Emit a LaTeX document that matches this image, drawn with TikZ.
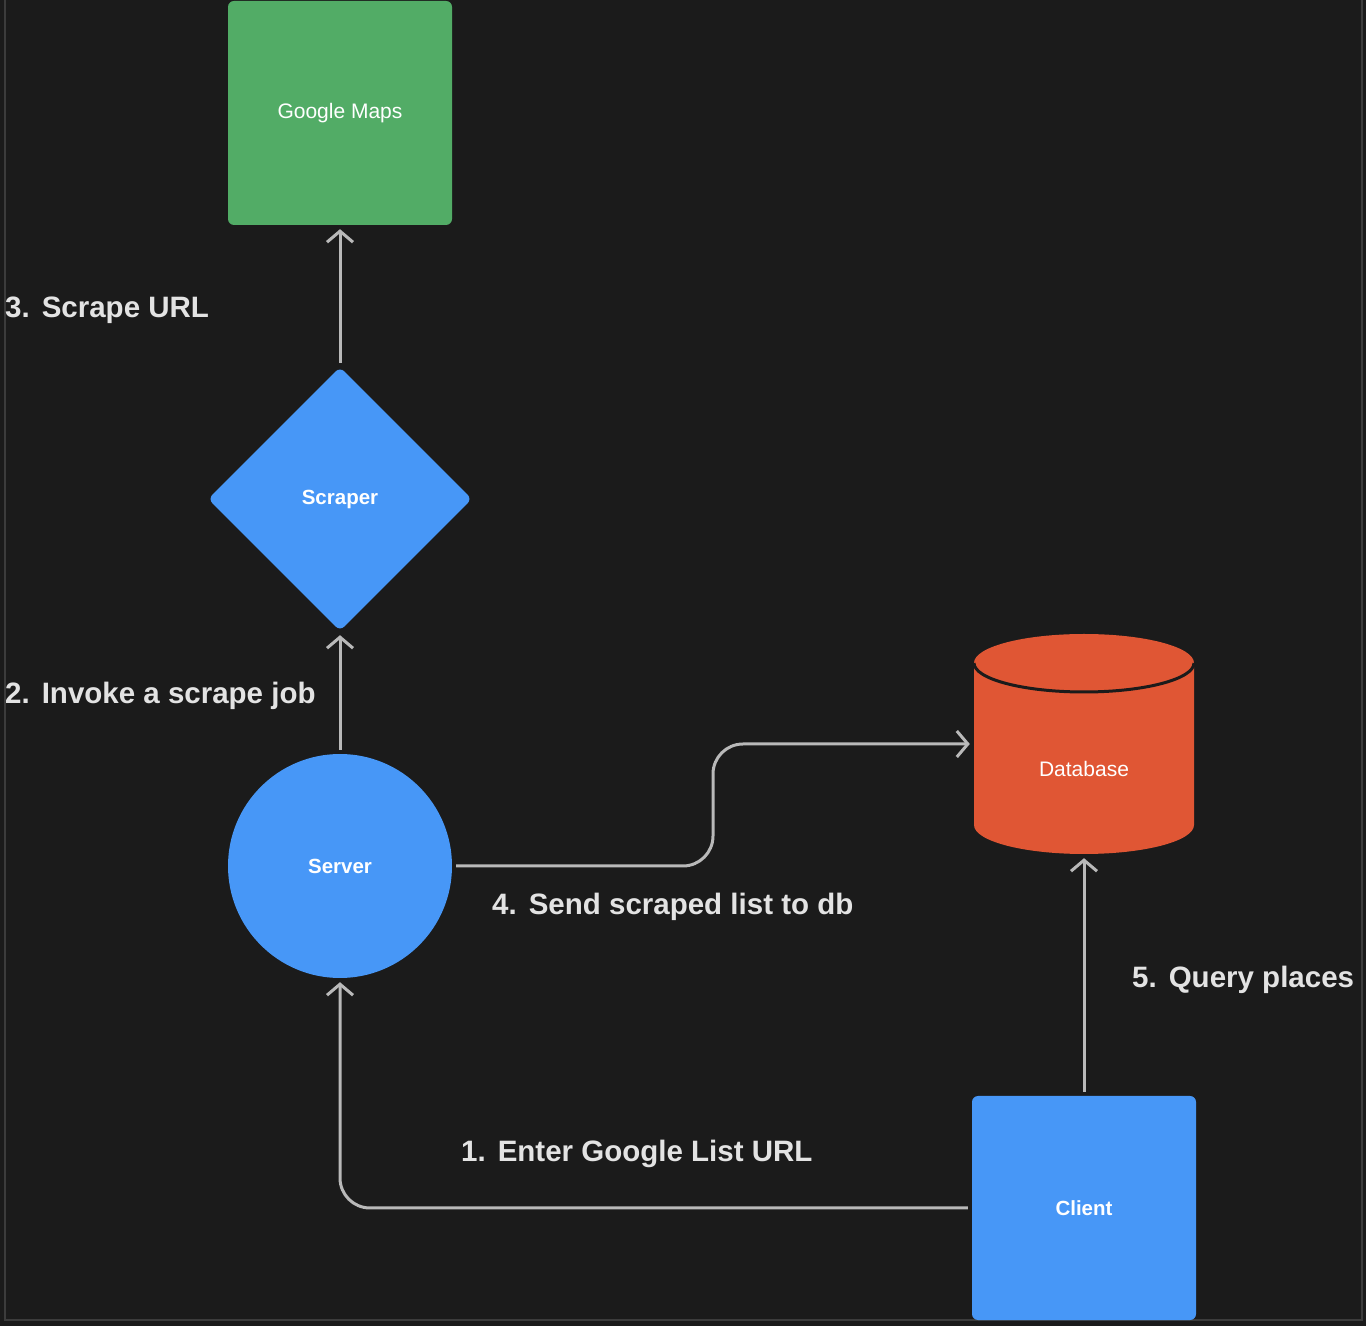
\documentclass[tikz,border=0pt]{standalone}
\usepackage{fontspec}
\setmainfont{Liberation Sans}
\usetikzlibrary{shapes.geometric,arrows.meta,calc}

\definecolor{bgdark}{HTML}{1B1B1B}
\definecolor{framegray}{HTML}{3C3C3C}
\definecolor{mapsgreen}{HTML}{52AC66}
\definecolor{nodeblue}{HTML}{4797F7}
\definecolor{dbred}{HTML}{E05634}
\definecolor{arrowgray}{HTML}{B9B9B9}
\definecolor{labelgray}{HTML}{E3E3E3}

\begin{document}
\begin{tikzpicture}[x=1pt,y=1pt,
		flow/.style={draw=arrowgray, line width=3pt, -{Straight Barb[length=11pt,width=26pt]}, shorten >=4pt, shorten <=4pt},
		box/.style={rectangle, rounded corners=6pt, minimum width=224pt, minimum height=224pt, inner sep=0pt, text=white, font=\fontsize{21}{24}\selectfont},
		lbl/.style={anchor=base west, inner sep=0pt, text=labelgray, font=\fontsize{29.5}{32}\selectfont\bfseries}]
		\useasboundingbox (0,0) rectangle (1366,1326);
		\fill[bgdark] (0,0) rectangle (1366,1326);
		\draw[framegray, line width=2pt] (5,1326) -- (5,6) -- (1362,6) -- (1362,1326);

		% cylinder behind the db label
		\fill[dbred] (974,663) -- (974,501) arc (180:360:110 and 29) -- (1194,663) arc (0:180:110 and 29) -- cycle;
		\draw[bgdark, line width=3pt] (974,663) arc (180:360:110 and 29);

		\node[box, fill=mapsgreen] (maps) at (340,1213) {Google Maps};
		\node[diamond, aspect=1, minimum width=264pt, minimum height=264pt, inner sep=0pt, rounded corners=6pt, fill=nodeblue, text=white, font=\fontsize{20.5}{24}\selectfont\bfseries] (scraper) at (340,827) {Scraper};
		\node[circle, minimum size=224pt, inner sep=0pt, fill=nodeblue, text=white, font=\fontsize{20.5}{24}\selectfont\bfseries] (server) at (340,460) {Server};
		\node[rectangle, minimum width=220pt, minimum height=220pt, inner sep=0pt, text height=66pt, text depth=0pt, text=white, font=\fontsize{21}{24}\selectfont] (db) at (1084,582) {Database};
		\node[box, fill=nodeblue, font=\fontsize{20.5}{24}\selectfont\bfseries] (client) at (1084,118) {Client};

		\coordinate (bend) at ($(server.east)!.5!(db.west)$);
		\draw[flow] (scraper.north) -- (maps.south);
		\draw[flow] (server.north) -- (scraper.south);
		\draw[flow, rounded corners=30pt] (server.east) -| (bend) |- (db.west);
		\draw[flow] (client.north) -- (db.south);
		\draw[flow, rounded corners=30pt] (client.west) -| (server.south);

		\node[lbl] (l3) at (5,1008) {3.\hspace{12pt}Scrape URL};
		\node[lbl] (l2) at (5,622) {2.\hspace{12pt}Invoke a scrape job};
		\node[lbl] (l4) at (492,411) {4.\hspace{12pt}Send scraped list to db};
		\node[lbl] (l5) at (1132,338) {5.\hspace{12pt}Query places};
		\node[lbl] (l1) at (461,164) {1.\hspace{12pt}Enter Google List URL};
	\end{tikzpicture}
\end{document}
